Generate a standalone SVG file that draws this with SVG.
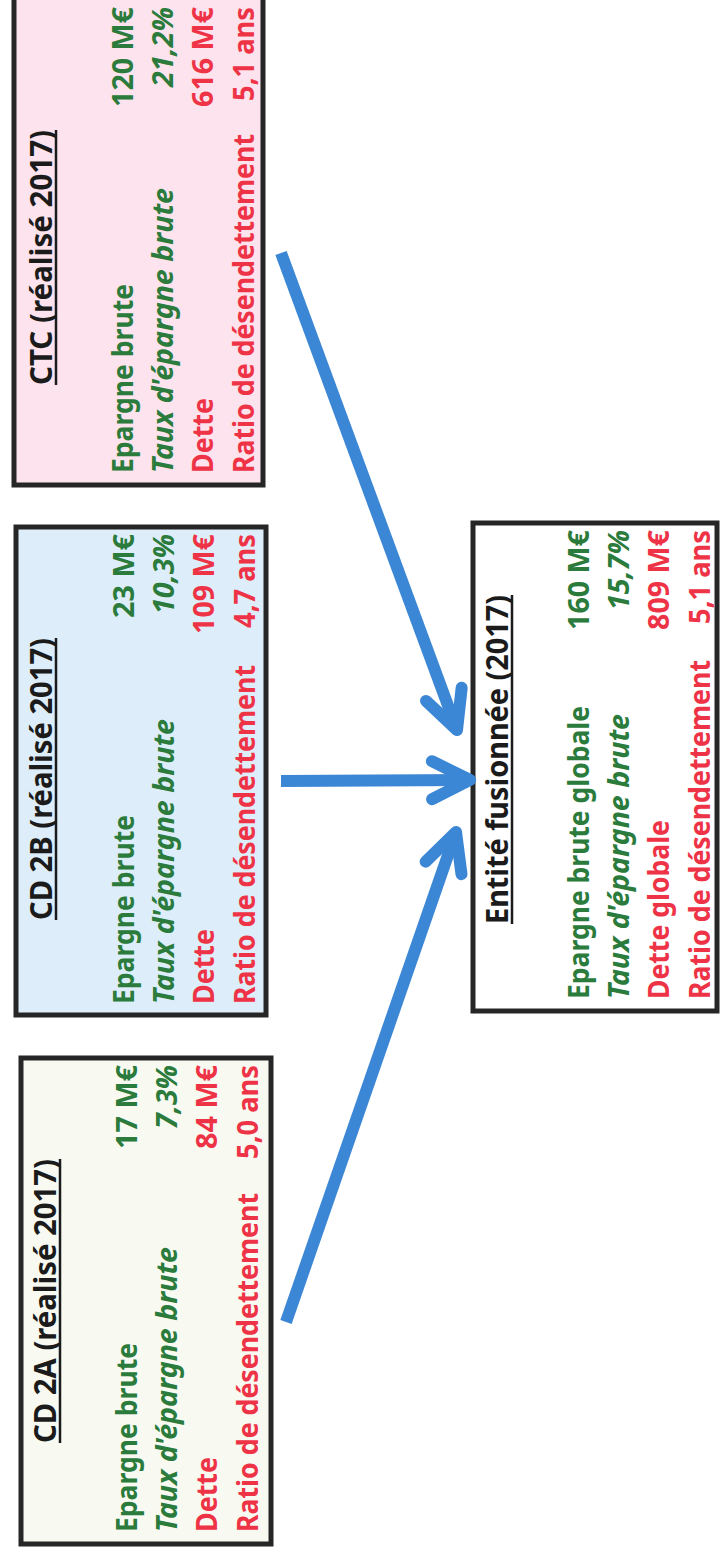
<svg xmlns="http://www.w3.org/2000/svg" width="720" height="1558" viewBox="0 0 720 1558">
  <style>
    .t { font-family: "Noto Sans", "Liberation Sans", sans-serif; font-weight: 700; font-size: 29px; }
    .ttl { font-size: 31px; fill: #1b1b1b; }
    .ul { stroke: #1b1b1b; stroke-width: 2.5; }
    .g { fill: #2a7b3c; }
    .r { fill: #ee3347; }
    .i { font-style: italic; }
    .v { text-anchor: end; }
    .box { stroke: #262626; stroke-width: 5; }
    .arr { fill: none; stroke: #3c87d5; stroke-width: 12; stroke-linejoin: round; }
    .head { fill: none; stroke: #3c87d5; stroke-width: 12; stroke-linecap: round; stroke-linejoin: round; }
  </style>
  <defs>
    <marker id="ah" markerUnits="userSpaceOnUse" orient="auto" refX="0" refY="0" markerWidth="1" markerHeight="1" style="overflow:visible">
      <path class="head" d="M-38,-19 L0,0 L-38,19"/>
    </marker>
  </defs>
  <rect width="720" height="1558" fill="#ffffff"/>

  <g id="ctc">
    <rect class="box" x="14" y="-10" width="249" height="495" fill="#fde3ed"/>
    <g class="t" transform="translate(14,473) rotate(-90)">
      <text class="ttl" x="88" y="38" textLength="255" lengthAdjust="spacingAndGlyphs">CTC (réalisé 2017)</text>
      <line class="ul" x1="88" y1="42" x2="343" y2="42"/>
      <text class="g" x="0" y="119" textLength="189" lengthAdjust="spacingAndGlyphs">Epargne brute</text>
      <text class="g v" x="466" y="119" textLength="100" lengthAdjust="spacingAndGlyphs">120 M€</text>
      <text class="g i" x="0" y="159" textLength="285" lengthAdjust="spacingAndGlyphs">Taux d'épargne brute</text>
      <text class="g i v" x="466" y="159" textLength="80" lengthAdjust="spacingAndGlyphs">21,2%</text>
      <text class="r" x="0" y="199" textLength="75" lengthAdjust="spacingAndGlyphs">Dette</text>
      <text class="r v" x="466" y="199" textLength="100" lengthAdjust="spacingAndGlyphs">616 M€</text>
      <text class="r" x="0" y="240" textLength="339" lengthAdjust="spacingAndGlyphs">Ratio de désendettement</text>
      <text class="r v" x="466" y="240" textLength="94" lengthAdjust="spacingAndGlyphs">5,1 ans</text>
    </g>
  </g>

  <g id="cd2b">
    <rect class="box" x="16" y="527" width="250" height="488" fill="#ddeefa"/>
    <g class="t" transform="translate(16,1004) rotate(-90)">
      <text class="ttl" x="84" y="36" textLength="282" lengthAdjust="spacingAndGlyphs">CD 2B (réalisé 2017)</text>
      <line class="ul" x1="84" y1="40" x2="366" y2="40"/>
      <text class="g" x="0" y="118" textLength="189" lengthAdjust="spacingAndGlyphs">Epargne brute</text>
      <text class="g v" x="470" y="118" textLength="84" lengthAdjust="spacingAndGlyphs">23 M€</text>
      <text class="g i" x="0" y="158" textLength="285" lengthAdjust="spacingAndGlyphs">Taux d'épargne brute</text>
      <text class="g i v" x="470" y="158" textLength="80" lengthAdjust="spacingAndGlyphs">10,3%</text>
      <text class="r" x="0" y="198" textLength="75" lengthAdjust="spacingAndGlyphs">Dette</text>
      <text class="r v" x="470" y="198" textLength="100" lengthAdjust="spacingAndGlyphs">109 M€</text>
      <text class="r" x="0" y="239" textLength="339" lengthAdjust="spacingAndGlyphs">Ratio de désendettement</text>
      <text class="r v" x="470" y="239" textLength="94" lengthAdjust="spacingAndGlyphs">4,7 ans</text>
    </g>
  </g>

  <g id="cd2a">
    <rect class="box" x="21" y="1058" width="250" height="486" fill="#f8faf2"/>
    <g class="t" transform="translate(21,1532) rotate(-90)">
      <text class="ttl" x="89" y="35" textLength="284" lengthAdjust="spacingAndGlyphs">CD 2A (réalisé 2017)</text>
      <line class="ul" x1="89" y1="39" x2="373" y2="39"/>
      <text class="g" x="0" y="116" textLength="189" lengthAdjust="spacingAndGlyphs">Epargne brute</text>
      <text class="g v" x="467" y="116" textLength="84" lengthAdjust="spacingAndGlyphs">17 M€</text>
      <text class="g i" x="0" y="156" textLength="285" lengthAdjust="spacingAndGlyphs">Taux d'épargne brute</text>
      <text class="g i v" x="467" y="156" textLength="64" lengthAdjust="spacingAndGlyphs">7,3%</text>
      <text class="r" x="0" y="196" textLength="75" lengthAdjust="spacingAndGlyphs">Dette</text>
      <text class="r v" x="467" y="196" textLength="84" lengthAdjust="spacingAndGlyphs">84 M€</text>
      <text class="r" x="0" y="237" textLength="339" lengthAdjust="spacingAndGlyphs">Ratio de désendettement</text>
      <text class="r v" x="467" y="237" textLength="94" lengthAdjust="spacingAndGlyphs">5,0 ans</text>
    </g>
  </g>

  <g id="entite">
    <rect class="box" x="473" y="523" width="244" height="488" fill="#ffffff"/>
    <g class="t" transform="translate(473,999) rotate(-90)">
      <text class="ttl" x="75" y="35" textLength="329" lengthAdjust="spacingAndGlyphs">Entité fusionnée (2017)</text>
      <line class="ul" x1="75" y1="39" x2="404" y2="39"/>
      <text class="g" x="0" y="116" textLength="293" lengthAdjust="spacingAndGlyphs">Epargne brute globale</text>
      <text class="g v" x="469" y="116" textLength="100" lengthAdjust="spacingAndGlyphs">160 M€</text>
      <text class="g i" x="0" y="156" textLength="285" lengthAdjust="spacingAndGlyphs">Taux d'épargne brute</text>
      <text class="g i v" x="469" y="156" textLength="80" lengthAdjust="spacingAndGlyphs">15,7%</text>
      <text class="r" x="0" y="196" textLength="179" lengthAdjust="spacingAndGlyphs">Dette globale</text>
      <text class="r v" x="469" y="196" textLength="100" lengthAdjust="spacingAndGlyphs">809 M€</text>
      <text class="r" x="0" y="237" textLength="339" lengthAdjust="spacingAndGlyphs">Ratio de désendettement</text>
      <text class="r v" x="469" y="237" textLength="94" lengthAdjust="spacingAndGlyphs">5,1 ans</text>
    </g>
  </g>

  <g id="connectors">
    <line class="arr" x1="281" y1="253" x2="457" y2="730" marker-end="url(#ah)"/>
    <line class="arr" x1="281" y1="781" x2="470" y2="780" marker-end="url(#ah)"/>
    <line class="arr" x1="286" y1="1322" x2="456" y2="832" marker-end="url(#ah)"/>
  </g>
</svg>
